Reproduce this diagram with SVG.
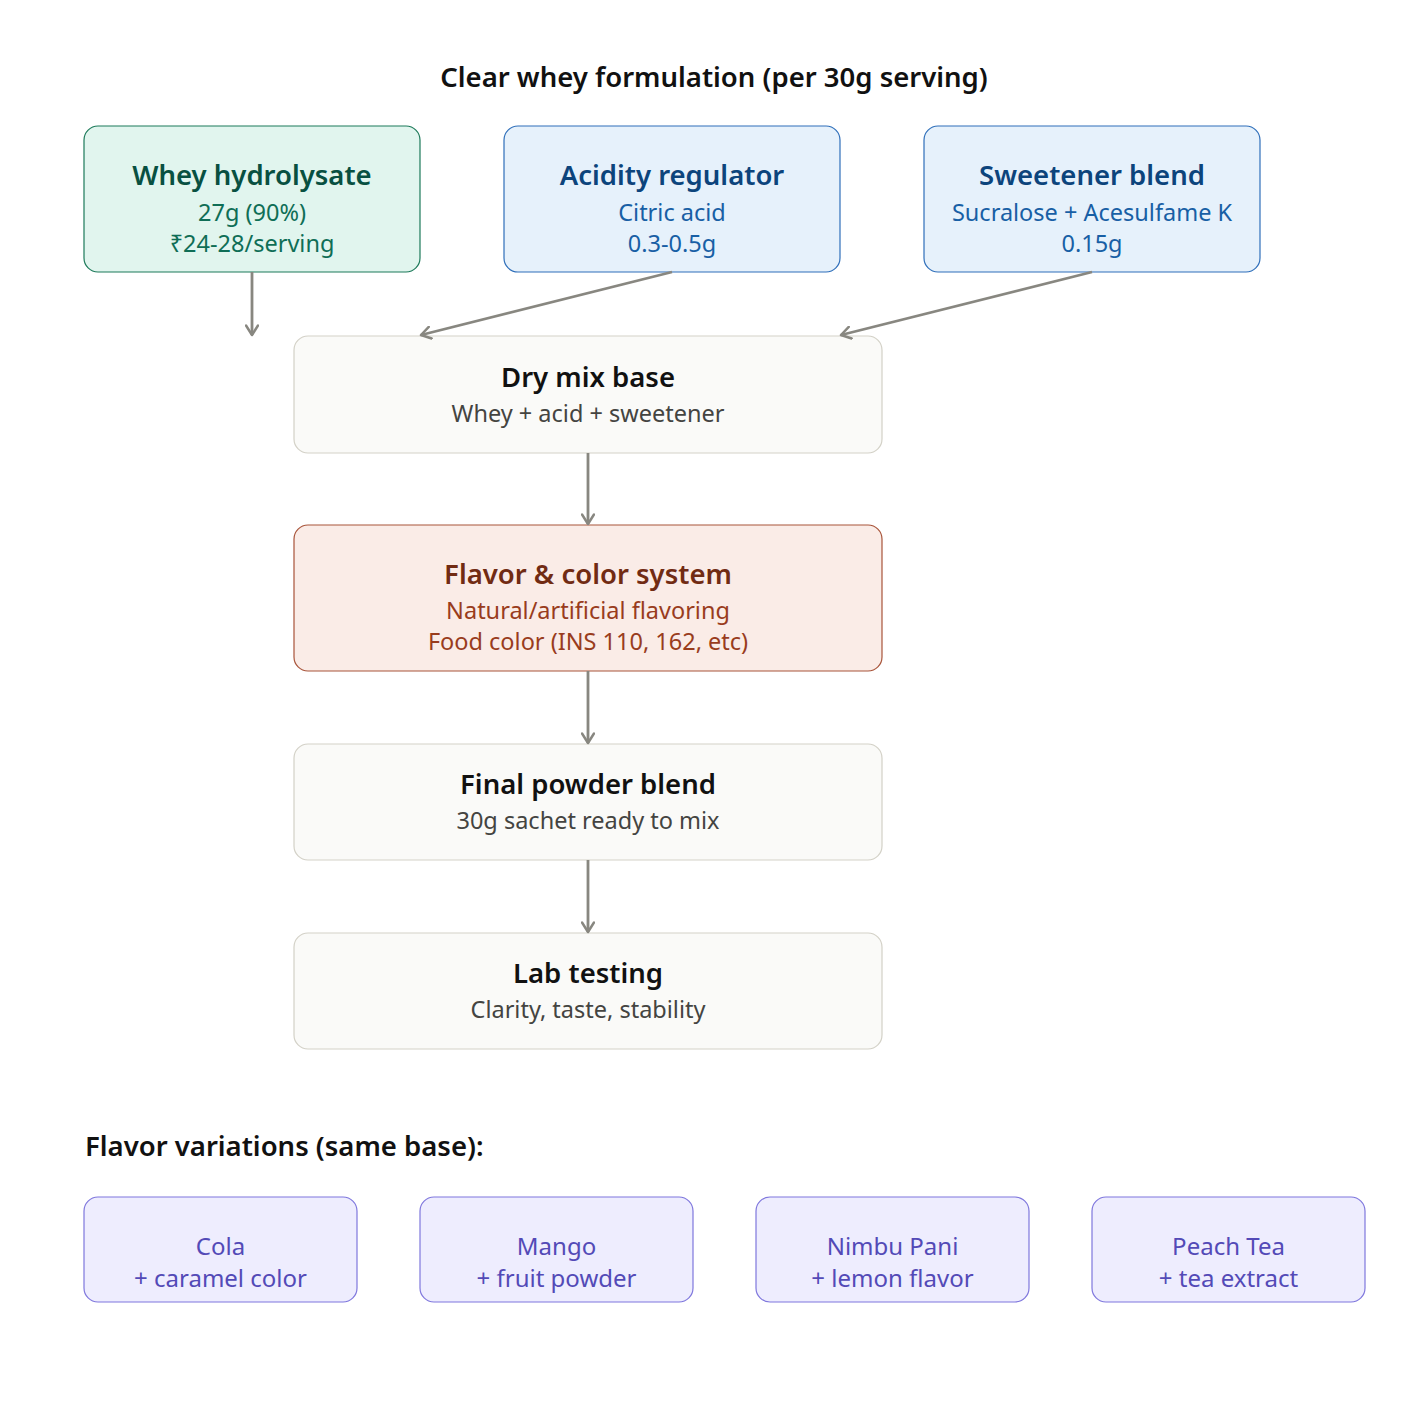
<svg xmlns="http://www.w3.org/2000/svg" width="1428" height="1428" viewBox="0 0 1428 1428">
<defs>
<marker id="arr" viewBox="0 0 14 14" refX="11" refY="7" markerWidth="14" markerHeight="14" markerUnits="userSpaceOnUse" orient="auto">
<path d="M1.5,1 L11,7 L1.5,13" fill="none" stroke="#888780" stroke-width="2.5" stroke-linecap="round" stroke-linejoin="round"/>
</marker>
<style>
text{font-family:"Noto Sans","Open Sans","Liberation Sans",sans-serif;text-anchor:middle;dominant-baseline:central}
.h{font-size:27.5px;font-weight:600}
.s{font-size:23.5px}
.t{font-size:27.5px;font-weight:600;fill:#111}
.green rect{fill:#e1f5ee;stroke:#1d7a5a}
.green .h{fill:#085041}.green .s{fill:#0f6e56}
.blue rect{fill:#e6f1fb;stroke:#2f6fba}
.blue .h{fill:#0c447c}.blue .s{fill:#185fa5}
.red rect{fill:#faece7;stroke:#a8543a}
.red .h{fill:#712b13}.red .s{fill:#993c1d}
.gray rect{fill:#fafaf8;stroke:#d3d1c7}
.gray .h{fill:#111}.gray .s{fill:#444441}
.pur rect{fill:#eeedfe;stroke:#7f77dd}
.pur .s{fill:#534ab7;font-size:24px}
rect{stroke-width:1.2}
.c line{stroke:#888780;stroke-width:2.8;marker-end:url(#arr)}
</style>
</defs>
<rect width="1428" height="1428" fill="#ffffff"/>
<text class="t" x="714" y="76">Clear whey formulation (per 30g serving)</text>
<g id="whey" class="green"><rect x="84" y="126" width="336" height="146" rx="14"/><text class="h" x="252" y="174">Whey hydrolysate</text><text class="s" x="252" y="212">27g (90%)</text><text class="s" x="252" y="243">₹24-28/serving</text></g>
<g id="acid" class="blue"><rect x="504" y="126" width="336" height="146" rx="14"/><text class="h" x="672" y="174">Acidity regulator</text><text class="s" x="672" y="212">Citric acid</text><text class="s" x="672" y="243">0.3-0.5g</text></g>
<g id="sweet" class="blue"><rect x="924" y="126" width="336" height="146" rx="14"/><text class="h" x="1092" y="174">Sweetener blend</text><text class="s" x="1092" y="212">Sucralose + Acesulfame K</text><text class="s" x="1092" y="243">0.15g</text></g>
<g id="drymix" class="gray"><rect x="294" y="336" width="588" height="117" rx="14"/><text class="h" x="588" y="376">Dry mix base</text><text class="s" x="588" y="413">Whey + acid + sweetener</text></g>
<g id="flavor" class="red"><rect x="294" y="525" width="588" height="146" rx="14"/><text class="h" x="588" y="573">Flavor &amp; color system</text><text class="s" x="588" y="610">Natural/artificial flavoring</text><text class="s" x="588" y="641">Food color (INS 110, 162, etc)</text></g>
<g id="final" class="gray"><rect x="294" y="744" width="588" height="116" rx="14"/><text class="h" x="588" y="783">Final powder blend</text><text class="s" x="588" y="820">30g sachet ready to mix</text></g>
<g id="lab" class="gray"><rect x="294" y="933" width="588" height="116" rx="14"/><text class="h" x="588" y="972">Lab testing</text><text class="s" x="588" y="1009">Clarity, taste, stability</text></g>
<text class="t" x="85" y="1145" style="text-anchor:start">Flavor variations (same base):</text>
<g id="cola" class="pur"><rect x="84" y="1197" width="273" height="105" rx="14"/><text class="s" x="220.5" y="1245">Cola</text><text class="s" x="220.5" y="1277">+ caramel color</text></g>
<g id="mango" class="pur"><rect x="420" y="1197" width="273" height="105" rx="14"/><text class="s" x="556.5" y="1245">Mango</text><text class="s" x="556.5" y="1277">+ fruit powder</text></g>
<g id="nimbu" class="pur"><rect x="756" y="1197" width="273" height="105" rx="14"/><text class="s" x="892.5" y="1245">Nimbu Pani</text><text class="s" x="892.5" y="1277">+ lemon flavor</text></g>
<g id="peach" class="pur"><rect x="1092" y="1197" width="273" height="105" rx="14"/><text class="s" x="1228.5" y="1245">Peach Tea</text><text class="s" x="1228.5" y="1277">+ tea extract</text></g>
<g id="connectors" class="c">
<line x1="252" y1="272" x2="252" y2="335"/>
<line x1="672" y1="272" x2="421" y2="335"/>
<line x1="1092" y1="272" x2="841" y2="335"/>
<line x1="588" y1="453" x2="588" y2="524"/>
<line x1="588" y1="671" x2="588" y2="743"/>
<line x1="588" y1="860" x2="588" y2="932"/>
</g>
</svg>
